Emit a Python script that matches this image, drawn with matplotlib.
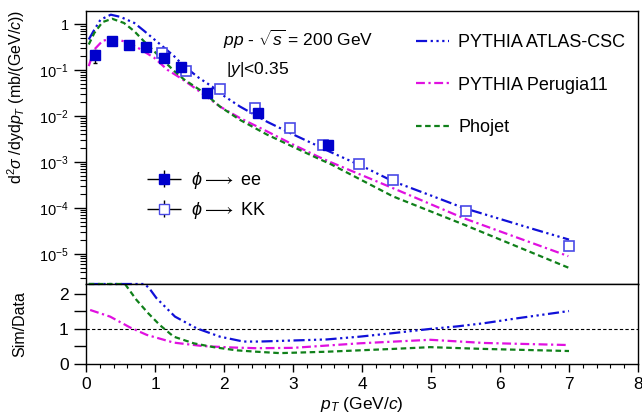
import numpy as np
import matplotlib
matplotlib.use("Agg")
import matplotlib.pyplot as plt
from matplotlib.ticker import FixedLocator, FuncFormatter, MultipleLocator, LogLocator, NullFormatter
from matplotlib.legend_handler import HandlerErrorbar

plt.rcParams["font.family"] = ["Liberation Sans", "DejaVu Sans"]
plt.rcParams["mathtext.fontset"] = "custom"
plt.rcParams["mathtext.rm"] = "Liberation Sans"
plt.rcParams["mathtext.it"] = "Liberation Sans:italic"
plt.rcParams["mathtext.bf"] = "Liberation Sans:bold"

# --- data ---
pt_ee = [0.13, 0.38, 0.62, 0.87, 1.13, 1.37, 1.75, 2.49, 3.50]
xs_ee = [0.21, 0.44, 0.35, 0.32, 0.185, 0.117, 0.032, 0.0117, 0.0023]
err_ee = [0.065, 0.02, 0.015, 0.012, 0.008, 0.005, 0.0015, 0.0006, 0.0001]

pt_kk = [1.10, 1.45, 1.94, 2.45, 2.95, 3.43, 3.96, 4.45, 5.50, 7.00]
xs_kk = [0.24, 0.095, 0.039, 0.0148, 0.0056, 0.0023, 9.1e-4, 4.1e-4, 8.5e-5, 1.5e-5]
err_kk = [0.01, 0.004, 0.0015, 0.0006, 0.0002, 0.0001, 4e-5, 2e-5, 4e-6, 2e-6]

pt_atlas = [0.04, 0.12, 0.21, 0.36, 0.50, 0.70, 0.84, 0.99, 1.11, 1.28, 1.42, 1.64,
            1.83, 1.94, 2.23, 2.62, 2.96, 3.36, 3.54, 4.02, 4.45, 5.00, 5.47, 6.00, 6.50, 7.00]
xs_atlas = [0.468, 0.759, 1.26, 1.62, 1.45, 1.07, 0.724, 0.468, 0.331, 0.200, 0.123, 0.0676,
            0.0437, 0.0316, 0.0162, 7.6e-3, 4.27e-3, 2.24e-3, 1.66e-3, 7.9e-4, 3.8e-4, 1.86e-4,
            1.0e-4, 5.75e-5, 3.4e-5, 2.04e-5]

pt_perugia = [0.04, 0.12, 0.24, 0.38, 0.55, 0.74, 0.99, 1.18, 1.37, 1.57, 1.94, 2.23,
              2.62, 2.96, 3.36, 3.54, 4.45, 5.47, 6.99]
xs_perugia = [0.123, 0.282, 0.437, 0.490, 0.427, 0.316, 0.186, 0.102, 0.0676, 0.0417,
              0.0162, 9.1e-3, 4.68e-3, 2.57e-3, 1.32e-3, 1.0e-3, 2.69e-4, 6.0e-5, 8.9e-6]

pt_phojet = [0.04, 0.12, 0.24, 0.38, 0.55, 0.70, 0.84, 0.99, 1.13, 1.28, 1.42, 1.57, 1.71,
             1.94, 2.23, 2.62, 2.96, 3.36, 3.54, 4.45, 5.47, 6.99]
xs_phojet = [0.363, 0.646, 1.12, 1.32, 1.07, 0.708, 0.427, 0.257, 0.158, 0.0955, 0.0631,
             0.0447, 0.0324, 0.0162, 8.3e-3, 3.98e-3, 2.29e-3, 1.2e-3, 9.1e-4, 1.78e-4,
             4.37e-5, 5.0e-6]

# ratio Sim/Data (values above the frame are shown at its top edge)
rpt_atlas = [0.04, 0.85, 0.92, 1.02, 1.29, 1.60, 1.94, 2.28, 2.52, 3.00, 3.49, 3.97,
             4.45, 4.99, 5.37, 5.76, 6.24, 7.00]
r_atlas = [2.28, 2.28, 2.15, 1.88, 1.35, 1.02, 0.78, 0.64, 0.64, 0.67, 0.70, 0.78,
           0.88, 1.00, 1.07, 1.16, 1.30, 1.51]
rpt_perugia = [0.06, 0.35, 0.64, 0.88, 1.27, 1.70, 2.13, 2.47, 3.00, 3.97, 4.99, 5.76, 7.00]
r_perugia = [1.54, 1.35, 1.04, 0.83, 0.61, 0.51, 0.47, 0.45, 0.46, 0.59, 0.69, 0.60, 0.54]
rpt_phojet = [0.04, 0.565, 0.73, 0.90, 1.07, 1.27, 1.56, 1.85, 2.18, 2.47, 2.81, 3.49,
              4.45, 4.99, 5.76, 7.00]
r_phojet = [2.28, 2.28, 1.83, 1.45, 1.11, 0.78, 0.59, 0.48, 0.39, 0.35, 0.31, 0.35,
            0.43, 0.48, 0.43, 0.37]

c_atlas = "#1010d8"
c_perugia = "#e010e0"
c_phojet = "#10801a"
ls_atlas = (0, (5, 1.6, 1, 1.6, 1, 1.6, 1, 1.6))
ls_perugia = (0, (4, 1.6, 1, 1.6))
ls_phojet = (0, (2.5, 1.6))

fig = plt.figure(figsize=(6.42, 4.2), dpi=100)
ax = fig.add_axes([86 / 642, 1 - 284 / 420, 552 / 642, 273 / 420])
axr = fig.add_axes([86 / 642, 1 - 364 / 420, 552 / 642, 80 / 420], sharex=ax)

# --- top panel ---
ax.plot(pt_atlas, xs_atlas, color=c_atlas, ls=ls_atlas, lw=1.6)
ax.plot(pt_perugia, xs_perugia, color=c_perugia, ls=ls_perugia, lw=1.6)
ax.plot(pt_phojet, xs_phojet, color=c_phojet, ls=ls_phojet, lw=1.6)
ax.errorbar(pt_kk, xs_kk, yerr=err_kk, fmt="s", ms=7, mfc="white", mec="#4a4ae6",
            mew=1.2, ecolor="k", elinewidth=1, capsize=0, zorder=5)
ax.errorbar(pt_ee, xs_ee, yerr=err_ee, fmt="s", ms=6.5, mfc="#0000cc", mec="#0000cc",
            ecolor="k", elinewidth=1, capsize=1.5, zorder=6)

ax.set_yscale("log")
ax.set_ylim(2.2e-6, 1.95)
ax.set_xlim(0, 8)
ax.yaxis.set_major_locator(LogLocator(base=10, numticks=20))
ax.yaxis.set_minor_locator(LogLocator(base=10, subs=np.arange(2, 10), numticks=20))
ax.yaxis.set_minor_formatter(NullFormatter())


def logfmt(v, pos):
    e = int(round(np.log10(v)))
    if e == 0:
        return "1"
    return r"10$^{%d}$" % e


ax.yaxis.set_major_formatter(FuncFormatter(logfmt))
ax.tick_params(axis="y", which="major", direction="out", length=9, width=1, labelsize=10.5)
ax.tick_params(axis="y", which="minor", direction="out", length=4.5, width=0.8)
ax.tick_params(axis="x", which="both", bottom=False, labelbottom=False)
ax.set_ylabel(r"d$^2\sigma$ /dyd$p_T$ (mb/(GeV/$c$))", fontsize=11.5)
ax.yaxis.set_label_coords(-0.107, 0.685)

ax.text(0.248, 0.895, r"$pp$ - $\sqrt{s}$ = 200 GeV", transform=ax.transAxes, fontsize=12.5,
        va="center", ha="left")
ax.text(0.253, 0.785, r"|$y$|<0.35", transform=ax.transAxes, fontsize=12.5,
        va="center", ha="left")

# model legend
hm = [plt.Line2D([], [], color=c_atlas, ls=ls_atlas, lw=1.6),
      plt.Line2D([], [], color=c_perugia, ls=ls_perugia, lw=1.6),
      plt.Line2D([], [], color=c_phojet, ls=ls_phojet, lw=1.6)]
leg1 = ax.legend(hm, ["PYTHIA ATLAS-CSC", "PYTHIA Perugia11", "Phojet"], loc="upper left",
                 bbox_to_anchor=(416 / 642, 1 - 34 / 420), bbox_transform=fig.transFigure,
                 frameon=False, fontsize=13, handlelength=1.8, handletextpad=0.55,
                 labelspacing=1.42, borderpad=0, borderaxespad=0)
ax.add_artist(leg1)

# data legend
h_ee = ax.errorbar([np.nan], [np.nan], xerr=[1], yerr=[1], fmt="s", ms=7, mfc="#0000cc",
                   mec="#0000cc", ecolor="k", elinewidth=1, capsize=0)
h_kk = ax.errorbar([np.nan], [np.nan], xerr=[1], yerr=[1], fmt="s", ms=7, mfc="white",
                   mec="#4a4ae6", ecolor="k", elinewidth=1, capsize=0)
herr = HandlerErrorbar(xerr_size=0.95, yerr_size=0.47)
ax.legend([h_ee, h_kk], [r"$\phi\longrightarrow$ ee", r"$\phi\longrightarrow$ KK"],
          loc="upper left",
          bbox_to_anchor=(146 / 642, 1 - 170 / 420), bbox_transform=fig.transFigure,
          frameon=False, fontsize=13, handlelength=2.0, handletextpad=0.5,
          labelspacing=0.5, borderpad=0, borderaxespad=0,
          handler_map={h_ee: herr, h_kk: herr})

# --- ratio panel ---
axr.axhline(1.0, color="k", ls=(0, (3, 2)), lw=0.8)
axr.plot(rpt_atlas, r_atlas, color=c_atlas, ls=ls_atlas, lw=1.6, clip_on=False)
axr.plot(rpt_perugia, r_perugia, color=c_perugia, ls=ls_perugia, lw=1.6)
axr.plot(rpt_phojet, r_phojet, color=c_phojet, ls=ls_phojet, lw=1.6, clip_on=False)
axr.set_ylim(0, 2.28)
axr.set_xlim(0, 8)
axr.yaxis.set_major_locator(FixedLocator([0, 1, 2]))
axr.yaxis.set_minor_locator(FixedLocator([0.5, 1.5]))
axr.xaxis.set_major_locator(MultipleLocator(1))
axr.xaxis.set_minor_locator(MultipleLocator(0.2))
axr.tick_params(axis="y", which="both", direction="out", length=9, width=1, labelsize=12.5)
axr.tick_params(axis="x", which="major", direction="out", length=6, width=1, labelsize=12.5)
axr.tick_params(axis="x", which="minor", direction="out", length=3, width=0.8)
axr.set_ylabel("Sim/Data", fontsize=11.5)
axr.yaxis.set_label_coords(-0.107, 0.5)
axr.set_xlabel(r"$p_T$ (GeV/$c$)", fontsize=12.5, labelpad=2)

for a in (ax, axr):
    for s in a.spines.values():
        s.set_linewidth(1)

plt.savefig("out.png", dpi=100)
